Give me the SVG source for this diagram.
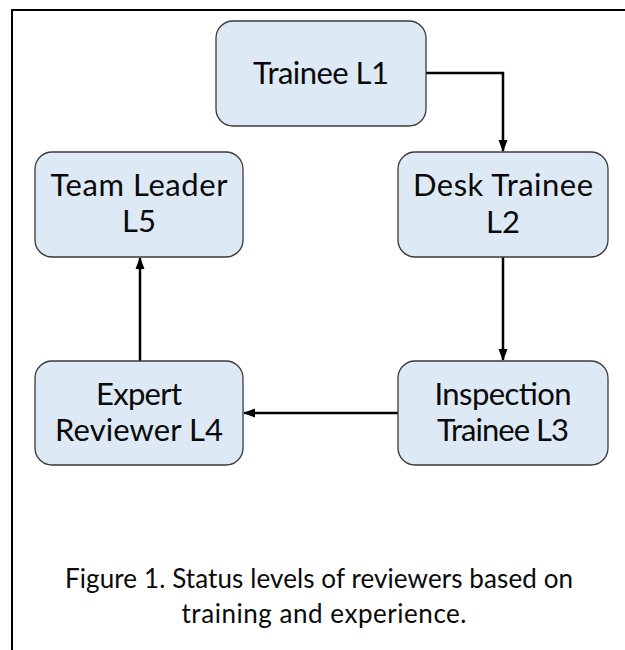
<svg xmlns="http://www.w3.org/2000/svg" width="625" height="650" viewBox="0 0 625 650">
<style>
.node rect{fill:#dde9f5;stroke:#3a3a3a;stroke-width:1.3}
.node text{font-family:Lato,"Open Sans","Liberation Sans",sans-serif;font-size:31px;fill:#0a0a0a;text-anchor:middle}
.cap{font-family:Lato,"Open Sans","Liberation Sans",sans-serif;font-size:26px;fill:#0a0a0a;text-anchor:middle}
.conn path{fill:none;stroke:#000;stroke-width:2.5}
</style>
<defs>
<marker id="ah" markerUnits="userSpaceOnUse" markerWidth="12" markerHeight="12" viewBox="0 0 12 12" refX="11" refY="6" orient="auto">
<path d="M0,1.5 L12,6 L0,10.5 Z" fill="#000"/>
</marker>
</defs>
<rect width="625" height="650" fill="#fff"/>
<path d="M12,650 V10 H625" fill="none" stroke="#000" stroke-width="2"/>
<g class="conn">
<path d="M426,73 H503 V151" marker-end="url(#ah)"/>
<path d="M503,257 V360" marker-end="url(#ah)"/>
<path d="M398,413 H244" marker-end="url(#ah)"/>
<path d="M140,361 V258" marker-end="url(#ah)"/>
</g>
<g id="n1" class="node"><rect x="216" y="21" width="210" height="105" rx="17"/><text x="321" y="84" textLength="136">Trainee L1</text></g>
<g id="n2" class="node"><rect x="398" y="152" width="210" height="105" rx="17"/><text x="503" y="196" textLength="180">Desk Trainee</text><text x="503" y="233">L2</text></g>
<g id="n3" class="node"><rect x="398" y="361" width="210" height="104" rx="17"/><text x="503" y="405" textLength="137">Inspection</text><text x="503" y="441" textLength="132">Trainee L3</text></g>
<g id="n4" class="node"><rect x="35" y="361" width="208" height="104" rx="17"/><text x="139" y="405" textLength="86">Expert</text><text x="139" y="441" textLength="168">Reviewer L4</text></g>
<g id="n5" class="node"><rect x="35" y="152" width="208" height="105" rx="17"/><text x="139" y="196" textLength="177">Team Leader</text><text x="139" y="232">L5</text></g>
<text class="cap" x="319" y="588" textLength="508">Figure 1. Status levels of reviewers based on</text>
<text class="cap" x="324" y="623" textLength="285">training and experience.</text>
</svg>
